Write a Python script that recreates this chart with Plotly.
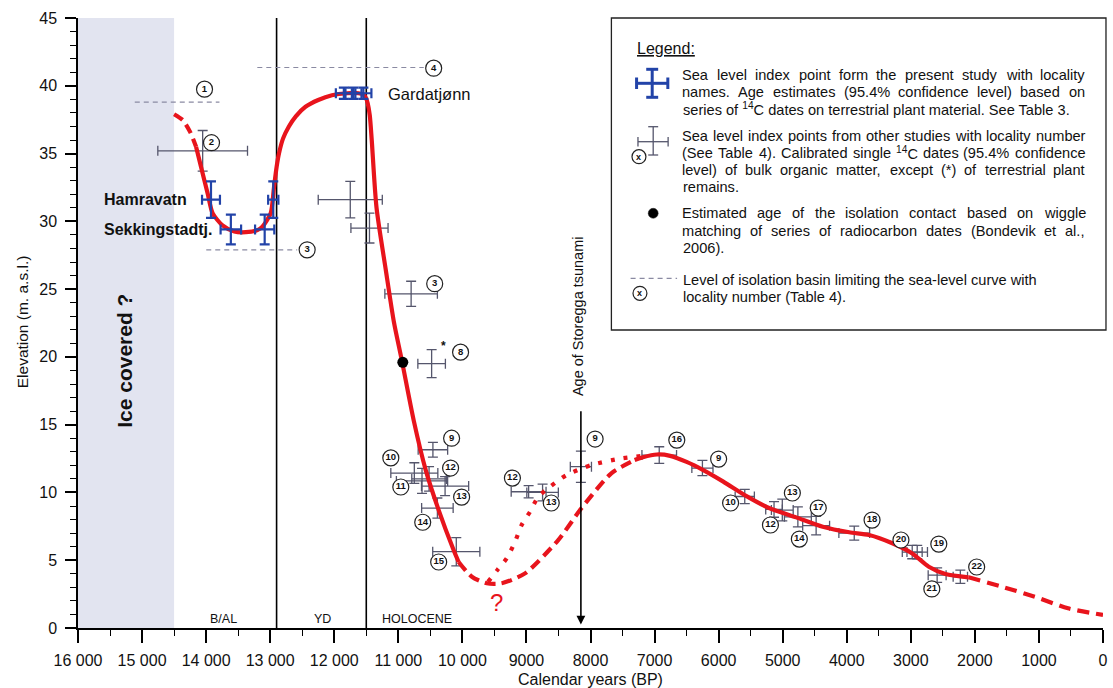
import re
import plotly.graph_objects as go

# ---------------- data ----------------
# Sea level index points, present study (blue)
BLUE_T = [13924, 12952, 13614, 13086, 11850, 11700, 11545]
BLUE_E = [31.6, 31.6, 29.4, 29.4, 39.45, 39.45, 39.45]
BLUE_TERR = [140, 80, 160, 150, 125, 125, 125]
BLUE_EERR = [1.35, 1.35, 1.1, 1.1, 0.42, 0.42, 0.42]

# Sea level index points, other studies (grey)
GRAY_T = [14054, 11750, 11450, 10800, 10480, 10460, 10750, 10630, 10520, 10270, 10390, 10095,
          8966, 8748, 8150, 6927, 6253, 5592, 5135, 5006, 4763, 4478, 3883, 2978, 2900, 2589, 2227]
GRAY_E = [35.2, 31.6, 29.5, 24.65, 19.5, 13.15, 11.43, 10.85, 11.0, 10.47, 8.85, 5.63,
          10.05, 10.0, 11.9, 12.76, 11.8, 9.7, 8.75, 8.7, 8.2, 7.55, 7.0, 5.6, 5.6, 3.9, 3.78]
GRAY_TERR = [700, 500, 290, 410, 215, 230, 367, 400, 270, 368, 246, 368,
             272, 246, 165, 270, 165, 150, 130, 170, 210, 210, 240, 155, 160, 140, 112]
GRAY_EERR = [1.5, 1.35, 1.1, 0.93, 1.03, 0.55, 0.76, 0.92, 0.9, 0.7, 0.74, 1.04,
             0.45, 0.62, 1.15, 0.61, 0.56, 0.52, 0.58, 0.8, 0.74, 0.68, 0.52, 0.49, 0.49, 0.53, 0.49]

# Locality number labels
LABEL_TXT = ['1', '2', '3', '4', '3', '8', '9', '10', '11', '12', '13', '14', '15', '12', '13', '9',
             '16', '9', '10', '12', '13', '14', '17', '18', '20', '19', '21', '22']
LABEL_T = [14025, 13916, 12423, 10448, 10432, 10028, 10168, 11117, 10961, 10184, 10012, 10619, 10370,
           9219, 8613, 7928, 6653, 6000, 5813, 5191, 4849, 4740, 4445, 3605, 3154, 2563, 2672, 1972]
LABEL_E = [39.75, 35.8, 27.9, 41.3, 25.4, 20.35, 14.0, 12.55, 10.4, 11.8, 9.66, 7.8, 4.87,
           11.06, 9.22, 13.94, 13.86, 12.46, 9.22, 7.6, 9.96, 6.56, 8.85, 7.96, 6.49, 6.19, 2.88, 4.5]

# Isolation basin levels (dashed)
ISO_T0 = [15114, 13998, 13201]
ISO_T1 = [13792, 12579, 10603]
ISO_E = [38.8, 27.9, 41.35]

# Isolation contact (Bondevik et al. 2006)
DOT_T = [10930]
DOT_E = [19.6]

# Sea-level curve segments
CURVE_EARLY_T = [14500, 14363, 14250, 14157]
CURVE_EARLY_E = [37.9, 37.46, 36.6, 35.5]
CURVE_MAIN_T = [14157, 14079, 13976, 13899, 13744, 13560, 13380, 13200, 13122, 12992, 12941, 12900,
                12863, 12800, 12708, 12600, 12449, 12250, 12036, 11800, 11620, 11545, 11505, 11477,
                11445, 11415, 11340, 11195, 11070, 10946, 10759, 10572, 10370, 10137, 10059]
CURVE_MAIN_E = [35.5, 34.0, 32.06, 30.6, 29.7, 29.25, 29.2, 29.35, 29.6, 30.6, 32.5, 34.0,
                35.0, 36.1, 37.0, 37.75, 38.45, 38.95, 39.3, 39.45, 39.45, 39.35, 39.1, 38.7,
                37.8, 36.0, 31.0, 26.4, 22.6, 19.76, 15.3, 11.65, 8.7, 5.75, 4.87]
CURVE_LOW_T = [10059, 9852, 9619, 9386, 9022, 8504, 8142, 7675, 7311]
CURVE_LOW_E = [4.87, 3.78, 3.3, 3.3, 4.03, 6.49, 8.83, 11.41, 12.39]
CURVE_HIGH_T = [9600, 9450, 9308, 9178, 9075, 8944, 8815, 8633, 8375, 7986, 7520, 7182]
CURVE_HIGH_E = [3.4, 4.3, 5.14, 6.36, 7.6, 8.58, 9.68, 10.42, 11.28, 12.02, 12.51, 12.7]
CURVE_LATE_T = [7311, 7182, 6963, 6756, 6500, 6240, 5927, 5565, 5203, 4789, 4375, 3961, 3650,
                3288, 2978, 2719, 2460, 2098]
CURVE_LATE_E = [12.39, 12.6, 12.8, 12.7, 12.25, 11.65, 10.8, 9.73, 8.83, 8.16, 7.47, 7.06, 6.86,
                6.25, 5.5, 4.52, 3.98, 3.74]
CURVE_END_T = [2098, 1581, 1062, 545, 0]
CURVE_END_E = [3.74, 3.05, 2.3, 1.45, 0.96]

# Periods
YD_START = 12900
HOLOCENE_START = 11500
ICE_T0, ICE_T1 = 16000, 14500
STOREGGA_T = 8150
PERIOD_TXT = ['B/AL', 'YD', 'HOLOCENE']
PERIOD_T = [13729, 12190, 10712]

# Axes ticks
X_TICKVALS = [16000, 15000, 14000, 13000, 12000, 11000, 10000, 9000, 8000, 7000, 6000, 5000, 4000,
              3000, 2000, 1000, 0]
X_TICKTEXT = ['16 000', '15 000', '14 000', '13 000', '12 000', '11 000', '10 000', '9000', '8000',
              '7000', '6000', '5000', '4000', '3000', '2000', '1000', '0']
Y_TICKVALS = [0, 5, 10, 15, 20, 25, 30, 35, 40, 45]

# ---------------- styling helpers ----------------
FONT = 'Liberation Sans, Arial, sans-serif'
RED = '#e8141c'
BLUE = '#2243a8'
GRAY = '#55566c'
ISO_COL = '#8a8aa2'
W, H = 1113, 688
ML, MR, MT, MB = 78, 5, 18, 60
PW, PH = W - ML - MR, H - MT - MB


def PX(p):
    return (p - ML) / PW


def PY(p):
    return (H - MB - p) / PH


AW = {' ': 278, '!': 278, '"': 355, '%': 889, '&': 667, "'": 191, '(': 333, ')': 333, '*': 389,
      '+': 584, ',': 278, '-': 333, '.': 278, '/': 278, ':': 278, ';': 278, '?': 556,
      'A': 667, 'B': 667, 'C': 722, 'D': 722, 'E': 667, 'F': 611, 'G': 778, 'H': 722, 'I': 278,
      'J': 500, 'K': 667, 'L': 556, 'M': 833, 'N': 722, 'O': 778, 'P': 667, 'Q': 778, 'R': 722,
      'S': 667, 'T': 611, 'U': 722, 'V': 667, 'W': 944, 'X': 667, 'Y': 667, 'Z': 611,
      'a': 556, 'b': 556, 'c': 500, 'd': 556, 'e': 556, 'f': 278, 'g': 556, 'h': 556, 'i': 222,
      'j': 222, 'k': 500, 'l': 222, 'm': 833, 'n': 556, 'o': 556, 'p': 556, 'q': 556, 'r': 333,
      's': 500, 't': 278, 'u': 556, 'v': 500, 'w': 722, 'x': 500, 'y': 500, 'z': 500}


def text_width(s, size):
    total = 0.0
    for part in re.split(r'(<sup>.*?</sup>)', s):
        if part.startswith('<sup>'):
            total += 0.7 * sum(AW.get(c, 556) for c in part[5:-6])
        else:
            total += sum(AW.get(c, 556) for c in part)
    return total * size / 1000.0


fig = go.Figure()

# isolation basin levels
for t0, t1, e in zip(ISO_T0, ISO_T1, ISO_E):
    fig.add_trace(go.Scatter(x=[t0, t1], y=[e, e], mode='lines',
                             line=dict(color=ISO_COL, width=1.2, dash='5px,4px'),
                             hoverinfo='skip', showlegend=False))

# grey index points
fig.add_trace(go.Scatter(
    x=GRAY_T, y=GRAY_E, mode='markers', marker=dict(size=1, color=GRAY),
    error_x=dict(type='data', array=GRAY_TERR, color=GRAY, thickness=1.3, width=5),
    error_y=dict(type='data', array=GRAY_EERR, color=GRAY, thickness=1.3, width=5),
    showlegend=False))

# sea-level curve
curve_line = dict(color=RED, width=4.2, shape='spline', smoothing=0.7)
segments = [
    (CURVE_EARLY_T, CURVE_EARLY_E, '10px,6px'),
    (CURVE_MAIN_T, CURVE_MAIN_E, 'solid'),
    (CURVE_LOW_T, CURVE_LOW_E, '11px,6px'),
    (CURVE_HIGH_T, CURVE_HIGH_E, '4px,9px'),
    (CURVE_LATE_T, CURVE_LATE_E, 'solid'),
    (CURVE_END_T, CURVE_END_E, '12px,7px'),
]
for xs, ys, dash in segments:
    fig.add_trace(go.Scatter(x=xs, y=ys, mode='lines', line=dict(curve_line, dash=dash),
                             hoverinfo='skip', showlegend=False))

# blue index points
fig.add_trace(go.Scatter(
    x=BLUE_T, y=BLUE_E, mode='markers', marker=dict(size=1, color=BLUE),
    error_x=dict(type='data', array=BLUE_TERR, color=BLUE, thickness=2.2, width=5),
    error_y=dict(type='data', array=BLUE_EERR, color=BLUE, thickness=2.2, width=5),
    showlegend=False))

# isolation contact dot
fig.add_trace(go.Scatter(x=DOT_T, y=DOT_E, mode='markers',
                         marker=dict(size=11, color='black'), showlegend=False))

# circled locality numbers
fig.add_trace(go.Scatter(
    x=LABEL_T, y=LABEL_E, mode='markers+text', text=LABEL_TXT, textposition='middle center',
    textfont=dict(family=FONT, size=9.5, color='#111', weight='bold'),
    marker=dict(size=16, color='white', line=dict(color='#222', width=1.2)),
    hoverinfo='skip', showlegend=False))

shapes = [
    dict(type='rect', xref='x', yref='y', x0=ICE_T0, x1=ICE_T1, y0=0, y1=45,
         fillcolor='#e2e4f0', line=dict(width=0), layer='below'),
    dict(type='line', xref='x', yref='y', x0=YD_START, x1=YD_START, y0=0, y1=45,
         line=dict(color='black', width=1.6), layer='below'),
    dict(type='line', xref='x', yref='y', x0=HOLOCENE_START, x1=HOLOCENE_START, y0=0, y1=45,
         line=dict(color='black', width=1.6), layer='below'),
]

annotations = []


def ann(**kw):
    base = dict(showarrow=False, xanchor='center', yanchor='middle',
                font=dict(family=FONT, size=14, color='#111'))
    base.update(kw)
    annotations.append(base)


# text in plot
ann(x=15269, y=19.7, xref='x', yref='y', text='<b>Ice covered ?</b>', textangle=-90,
    font=dict(family=FONT, size=21, color='#111'))
ann(x=15631, y=31.6, xref='x', yref='y', text='<b>Hamravatn</b>', xanchor='left',
    font=dict(family=FONT, size=16, color='#111'))
ann(x=15631, y=29.4, xref='x', yref='y', text='<b>Sekkingstadtj.</b>', xanchor='left',
    font=dict(family=FONT, size=16, color='#111'))
ann(x=11194, y=39.4, xref='x', yref='y', text='Gardatjønn', xanchor='left',
    font=dict(family=FONT, size=16.5, color='#111'))
ann(x=10292, y=20.8, xref='x', yref='y', text='<b>*</b>', font=dict(family=FONT, size=12, color='#111'))
ann(x=9463, y=1.9, xref='x', yref='y', text='?', font=dict(family=FONT, size=24, color=RED))
for txt, t in zip(PERIOD_TXT, PERIOD_T):
    ann(x=t, y=0.65, xref='x', yref='y', text=txt, font=dict(family=FONT, size=12.5, color='#111'))

# Storegga arrow and label
annotations.append(dict(x=STOREGGA_T, y=0.25, ax=STOREGGA_T, ay=16.1, xref='x', yref='y',
                        axref='x', ayref='y', text='', showarrow=True, arrowhead=2, arrowsize=1.1,
                        arrowwidth=1.6, arrowcolor='black'))
ann(x=STOREGGA_T, y=23.0, xref='x', yref='y', text='Age of Storegga tsunami', textangle=-90,
    xshift=-3, font=dict(family=FONT, size=14.5, color='#111'))

# axis titles
ann(x=0.5, y=PY(679), xref='paper', yref='paper', text='Calendar years (BP)',
    font=dict(family=FONT, size=16, color='#111'))
ann(x=PX(22), y=PY(322), xref='paper', yref='paper', text='Elevation (m. a.s.l.)', textangle=-90,
    font=dict(family=FONT, size=15.5, color='#111'))

# ---------------- legend box ----------------
shapes.append(dict(type='rect', xref='paper', yref='paper', x0=PX(614), x1=PX(1111),
                   y0=PY(330), y1=PY(18), line=dict(color='#222', width=1.3), fillcolor='white',
                   layer='above'))


def seg(x0, y0, x1, y1, color, width, dash='solid'):
    shapes.append(dict(type='line', xref='paper', yref='paper', x0=PX(x0), x1=PX(x1),
                       y0=PY(y0), y1=PY(y1), line=dict(color=color, width=width, dash=dash),
                       layer='above'))


def circ(cx, cy, r, fill, line_w):
    shapes.append(dict(type='circle', xref='paper', yref='paper', x0=PX(cx - r), x1=PX(cx + r),
                       y0=PY(cy + r), y1=PY(cy - r), fillcolor=fill,
                       line=dict(color='#222', width=line_w), layer='above'))


# blue cross symbol
seg(639.3, 83.3, 670.7, 83.3, BLUE, 3)
seg(655, 69.3, 655, 97.3, BLUE, 3)
seg(639.3, 77.5, 639.3, 89, BLUE, 3)
seg(670.7, 77.5, 670.7, 89, BLUE, 3)
seg(649, 69.3, 661, 69.3, BLUE, 3)
seg(649, 97.3, 661, 97.3, BLUE, 3)
# grey cross symbol
seg(640.7, 141.7, 671, 141.7, GRAY, 1.3)
seg(656, 126.7, 656, 155, GRAY, 1.3)
seg(640.7, 137, 640.7, 146.5, GRAY, 1.3)
seg(671, 137, 671, 146.5, GRAY, 1.3)
seg(651, 126.7, 661, 126.7, GRAY, 1.3)
seg(651, 155, 661, 155, GRAY, 1.3)
circ(641.7, 156.7, 7, 'white', 1.2)
ann(x=PX(641.7), y=PY(156.7), xref='paper', yref='paper', text='<b>x</b>',
    font=dict(family=FONT, size=9, color='#111'))
# black dot
circ(656, 213.3, 5, 'black', 0.5)
# dashed line + circle
seg(633.3, 278.3, 680, 278.3, ISO_COL, 1.2, '5px,4px')
circ(642.7, 293.3, 7, 'white', 1.2)
ann(x=PX(642.7), y=PY(293.3), xref='paper', yref='paper', text='<b>x</b>',
    font=dict(family=FONT, size=9, color='#111'))

ann(x=PX(638), y=PY(48.3), xref='paper', yref='paper', text='<u>Legend:</u>', xanchor='left',
    font=dict(family=FONT, size=16, color='#111'))

LEG_SIZE = 14.6
LEG_X0, LEG_X1 = 684, 1088.7
LEGEND_LINES = [
    ('Sea level index point form the present study with locality', True, 75),
    ('names. Age estimates (95.4% confidence level) based on', True, 91.7),
    ('series of <sup>14</sup>C dates on terrestrial plant material. See Table 3.', False, 109.3),
    ('Sea level index points from other studies with locality number', True, 136),
    ('(See Table 4). Calibrated single <sup>14</sup>C dates (95.4% confidence', True, 153.3),
    ('level) of bulk organic matter, except (*) of terrestrial plant', True, 170),
    ('remains.', False, 186.7),
    ('Estimated age of the isolation contact based on wiggle', True, 213.3),
    ('matching of series of radiocarbon dates (Bondevik et al.,', True, 230.7),
    ('2006).', False, 248.3),
    ('Level of isolation basin limiting the sea-level curve with', False, 280),
    ('locality number (Table 4).', False, 297.3),
]
for line, justify, py in LEGEND_LINES:
    if not justify:
        ann(x=PX(LEG_X0), y=PY(py), xref='paper', yref='paper', text=line, xanchor='left',
            yanchor='middle', font=dict(family=FONT, size=LEG_SIZE, color='#111'))
        continue
    words = line.split(' ')
    widths = [text_width(w, LEG_SIZE) for w in words]
    gap = (LEG_X1 - LEG_X0 - sum(widths)) / (len(words) - 1)
    gap = max(gap, 0.15 * LEG_SIZE)
    xpos = LEG_X0
    for w, wd in zip(words, widths):
        ann(x=PX(xpos), y=PY(py), xref='paper', yref='paper', text=w, xanchor='left',
            yanchor='middle', borderpad=0, font=dict(family=FONT, size=LEG_SIZE, color='#111'))
        xpos += wd + gap

fig.update_layout(
    width=W, height=H, margin=dict(l=ML, r=MR, t=MT, b=MB),
    paper_bgcolor='white', plot_bgcolor='white',
    showlegend=False, shapes=shapes, annotations=annotations,
    font=dict(family=FONT, color='#111'),
    xaxis=dict(range=[16000, 0], tickmode='array', tickvals=X_TICKVALS, ticktext=X_TICKTEXT,
               showgrid=False, zeroline=False, showline=True, linecolor='black', linewidth=1.5,
               ticks='outside', ticklen=13, tickwidth=1.5, tickcolor='black',
               ticklabelstandoff=4,
               tickfont=dict(family=FONT, size=16, color='#111'),
               minor=dict(tickmode='linear', tick0=500, dtick=1000, ticks='outside', ticklen=6,
                          tickwidth=1.3, tickcolor='black', showgrid=False)),
    yaxis=dict(range=[0, 45], tickmode='array', tickvals=Y_TICKVALS,
               showgrid=False, zeroline=False, showline=True, linecolor='black', linewidth=1.5,
               ticks='outside', ticklen=11, tickwidth=1.5, tickcolor='black',
               ticklabelstandoff=5,
               tickfont=dict(family=FONT, size=16, color='#111'),
               minor=dict(tickmode='linear', tick0=0, dtick=1, ticks='outside', ticklen=6,
                          tickwidth=1.2, tickcolor='black', showgrid=False)),
)

fig.write_html('out.html')
